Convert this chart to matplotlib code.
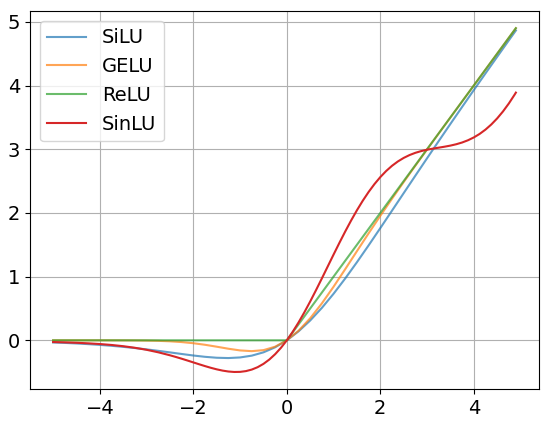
import matplotlib
matplotlib.use("Agg")
import matplotlib.pyplot as plt

# values
x = [-5.0, -4.75, -4.5, -4.25, -4.0, -3.75, -3.5, -3.25, -3.0, -2.75,
     -2.5, -2.25, -2.0, -1.75, -1.5, -1.25, -1.0, -0.75, -0.5, -0.25,
     0.0, 0.25, 0.5, 0.75, 1.0, 1.25, 1.5, 1.75, 2.0, 2.25,
     2.5, 2.75, 3.0, 3.25, 3.5, 3.75, 4.0, 4.25, 4.5, 4.75, 4.9]

silu = [-0.0335, -0.0407, -0.0494, -0.0598, -0.0719, -0.0862, -0.1026, -0.1213, -0.1423, -0.1652,
        -0.1896, -0.2145, -0.2384, -0.2591, -0.2736, -0.2784, -0.2689, -0.2406, -0.1888, -0.1095,
        0.0, 0.1405, 0.3112, 0.5094, 0.7311, 0.9716, 1.2264, 1.4909, 1.7616, 2.0355,
        2.3104, 2.5848, 2.8577, 3.1287, 3.3974, 3.6638, 3.9281, 4.1902, 4.4506, 4.7093, 4.8638]

gelu = [0.0, 0.0, 0.0, 0.0, -0.0001, -0.0003, -0.0008, -0.0019, -0.0041, -0.0082,
        -0.0155, -0.0275, -0.0455, -0.0701, -0.1002, -0.1321, -0.1587, -0.1700, -0.1543, -0.1003,
        0.0, 0.1497, 0.3457, 0.5800, 0.8413, 1.1179, 1.3998, 1.6799, 1.9545, 2.2225,
        2.4845, 2.7418, 2.9960, 3.2481, 3.4992, 3.7497, 3.9999, 4.25, 4.5, 4.75, 4.9]

relu = [0.0, 0.0, 0.0, 0.0, 0.0, 0.0, 0.0, 0.0, 0.0, 0.0,
        0.0, 0.0, 0.0, 0.0, 0.0, 0.0, 0.0, 0.0, 0.0, 0.0,
        0.0, 0.25, 0.5, 0.75, 1.0, 1.25, 1.5, 1.75, 2.0, 2.25,
        2.5, 2.75, 3.0, 3.25, 3.5, 3.75, 4.0, 4.25, 4.5, 4.75, 4.9]

# SinLU bends more, so it was read at a finer spacing
x_sin = [-5.0, -4.75, -4.5, -4.25, -4.0, -3.75, -3.5, -3.25, -3.0, -2.75, -2.5,
         -2.375, -2.25, -2.125, -2.0, -1.875, -1.75, -1.625, -1.5, -1.375, -1.25,
         -1.125, -1.0, -0.875, -0.75, -0.625, -0.5, -0.375, -0.25, -0.125, 0.0,
         0.125, 0.25, 0.375, 0.5, 0.625, 0.75, 0.875, 1.0, 1.125, 1.25,
         1.375, 1.5, 1.625, 1.75, 1.875, 2.0, 2.125, 2.25, 2.375, 2.5,
         2.625, 2.75, 2.875, 3.0, 3.125, 3.25, 3.375, 3.5, 3.625, 3.75,
         3.875, 4.0, 4.125, 4.25, 4.375, 4.5, 4.625, 4.75, 4.875, 4.9]

sinlu = [-0.0271, -0.0322, -0.0387, -0.0472, -0.0583, -0.0730, -0.0923, -0.1173, -0.1490, -0.1882, -0.2350,
         -0.2612, -0.2887, -0.3174, -0.3468, -0.3762, -0.4048, -0.4316, -0.4556, -0.4754, -0.4897,
         -0.4969, -0.4953, -0.4833, -0.4593, -0.4219, -0.3698, -0.3019, -0.2178, -0.1170, 0.0,
         0.1326, 0.2796, 0.4393, 0.6097, 0.7882, 0.9723, 1.1593, 1.3462, 1.5304, 1.7093,
         1.8805, 2.0419, 2.1919, 2.3292, 2.4529, 2.5625, 2.6579, 2.7394, 2.8075, 2.8634,
         2.9082, 2.9435, 2.9708, 2.9922, 3.0094, 3.0245, 3.0397, 3.0569, 3.0782, 3.1054,
         3.1405, 3.1849, 3.2402, 3.3078, 3.3887, 3.4838, 3.5936, 3.7185, 3.8587, 3.8886]

fig, ax = plt.subplots(figsize=(5.5, 4.23), dpi=100)
fig.subplots_adjust(left=0.0545, right=0.98, bottom=0.08, top=0.974)

ax.plot(x, silu, color="tab:blue", alpha=0.7, linewidth=1.5, label="SiLU")
ax.plot(x, gelu, color="tab:orange", alpha=0.7, linewidth=1.5, label="GELU")
ax.plot(x, relu, color="tab:green", alpha=0.7, linewidth=1.5, label="ReLU")
ax.plot(x_sin, sinlu, color="tab:red", linewidth=1.5, label="SinLU")

ax.grid(True)
ax.tick_params(labelsize=14)
ax.legend(loc="upper left", fontsize=14)

fig.savefig("out.png", dpi=100)
